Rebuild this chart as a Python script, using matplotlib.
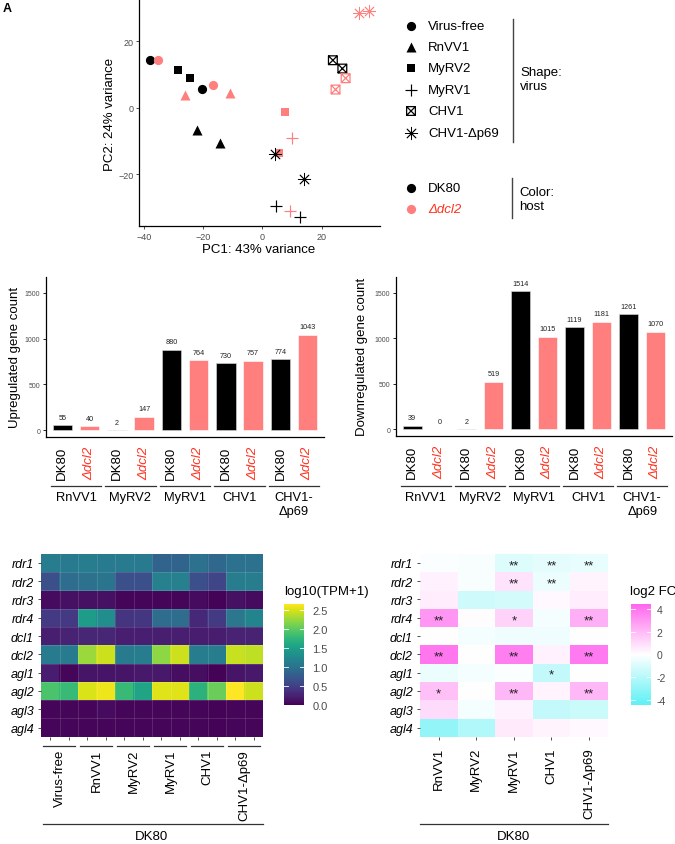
import numpy as np
import matplotlib
matplotlib.use('Agg')
import matplotlib.pyplot as plt
from matplotlib.colors import LinearSegmentedColormap
from matplotlib.path import Path
from matplotlib import transforms

plt.rcParams['font.family'] = ['Liberation Sans', 'DejaVu Sans']

# ---------------- data ----------------
viruses = ['Virus-free', 'RnVV1', 'MyRV2', 'MyRV1', 'CHV1', 'CHV1-Δp69']
hosts = ['DK80', 'Δdcl2']

# PCA points (2 replicates for each virus x host)
pca_virus = ['Virus-free'] * 4 + ['RnVV1'] * 4 + ['MyRV2'] * 4 + ['MyRV1'] * 4 + ['CHV1'] * 4 + ['CHV1-Δp69'] * 4
pca_host = ['DK80', 'DK80', 'Δdcl2', 'Δdcl2'] * 6
pc1 = [-37.9, -20.2, -35.1, -16.6,
       -22.0, -14.2, -26.1, -11.0,
       -28.3, -24.3, 7.8, 5.6,
       4.5, 12.6, 10.1, 9.4,
       23.8, 27.0, 28.1, 24.7,
       4.3, 14.2, 32.7, 36.0]
pc2 = [14.5, 5.8, 14.5, 7.0,
       -6.7, -10.6, 3.8, 4.4,
       11.3, 8.9, -1.1, -13.7,
       -29.6, -32.7, -9.2, -31.0,
       14.3, 11.8, 8.9, 5.5,
       -14.0, -21.3, 28.6, 29.2]

# bar charts
bar_groups = ['RnVV1', 'MyRV2', 'MyRV1', 'CHV1', 'CHV1-\nΔp69']
up_dk80 = [55, 2, 880, 730, 774]
up_dcl2 = [40, 147, 764, 757, 1043]
down_dk80 = [39, 2, 1514, 1119, 1261]
down_dcl2 = [0, 519, 1015, 1181, 1070]

# heatmap log10(TPM+1)
genes = ['rdr1', 'rdr2', 'rdr3', 'rdr4', 'dcl1', 'dcl2', 'agl1', 'agl2', 'agl3', 'agl4']
tpm_groups = ['Virus-free', 'RnVV1', 'MyRV2', 'MyRV1', 'CHV1', 'CHV1-Δp69']
tpm_rdr1 = [1.12, 1.08, 1.12, 1.08, 1.08, 1.08, 0.85, 0.85, 1.0, 0.9, 1.0, 1.0]
tpm_rdr2 = [0.65, 0.95, 1.0, 1.02, 0.65, 0.65, 1.15, 1.15, 0.65, 0.55, 1.12, 1.12]
tpm_rdr3 = [0.08, 0.12, 0.12, 0.12, 0.04, 0.04, 0.04, 0.04, 0.08, 0.03, 0.12, 0.08]
tpm_rdr4 = [0.45, 0.45, 1.45, 1.3, 0.4, 0.42, 0.95, 0.95, 0.3, 0.45, 1.05, 1.2]
tpm_dcl1 = [0.22, 0.25, 0.28, 0.28, 0.22, 0.22, 0.22, 0.22, 0.2, 0.2, 0.25, 0.25]
tpm_dcl2 = [1.1, 1.1, 2.25, 2.45, 1.1, 1.12, 2.2, 2.45, 1.12, 1.12, 2.43, 2.4]
tpm_agl1 = [0.2, 0.05, 0.15, 0.15, 0.15, 0.18, 0.18, 0.1, 0.1, 0.03, 0.15, 0.18]
tpm_agl2 = [1.9, 1.8, 2.5, 2.58, 1.8, 1.55, 2.52, 2.52, 1.7, 2.05, 2.65, 2.45]
tpm_agl3 = [0.04, 0.04, 0.05, 0.08, 0.04, 0.04, 0.05, 0.05, 0.04, 0.03, 0.04, 0.04]
tpm_agl4 = [0.04, 0.04, 0.05, 0.05, 0.04, 0.04, 0.04, 0.05, 0.04, 0.03, 0.04, 0.04]

# heatmap log2 FC
fc_groups = ['RnVV1', 'MyRV2', 'MyRV1', 'CHV1', 'CHV1-Δp69']
fc_rdr1 = [-0.1, -0.2, -0.9, -0.7, -0.6]
fc_rdr2 = [0.4, -0.2, 0.8, -0.5, 0.3]
fc_rdr3 = [0.5, -1.3, -1.2, 0.2, 0.5]
fc_rdr4 = [3.0, 0.1, 1.3, -0.3, 2.3]
fc_dcl1 = [0.0, -0.3, -0.4, -0.4, 0.0]
fc_dcl2 = [3.9, 0.0, 3.7, 0.4, 3.8]
fc_agl1 = [-0.5, -0.3, -0.1, -1.6, 0.0]
fc_agl2 = [1.8, 0.0, 2.0, 0.3, 2.0]
fc_agl3 = [1.0, -0.3, 0.4, -1.6, -1.4]
fc_agl4 = [-2.9, -2.1, 0.6, 0.3, 0.2]
fc_sig = [['', '', '**', '**', '**'],
          ['', '', '**', '**', ''],
          ['', '', '', '', ''],
          ['**', '', '*', '', '**'],
          ['', '', '', '', ''],
          ['**', '', '**', '', '**'],
          ['', '', '', '*', ''],
          ['*', '', '**', '', '**'],
          ['', '', '', '', ''],
          ['', '', '', '', '']]

# ---------------- styles ----------------
W, H = 675, 845
BLACK = '#000000'
PINK = '#FF7F7F'
RED_TXT = '#FF3320'
GRAY_TXT = '#4D4D4D'
host_colors = {'DK80': BLACK, 'Δdcl2': PINK}

sqx = Path([(-1, -1), (1, -1), (1, 1), (-1, 1), (-1, -1), (-1, -1), (1, 1), (-1, 1), (1, -1)],
           [Path.MOVETO, Path.LINETO, Path.LINETO, Path.LINETO, Path.CLOSEPOLY,
            Path.MOVETO, Path.LINETO, Path.MOVETO, Path.LINETO])
virus_marker = {
    'Virus-free': dict(marker='o', s=44, kind='filled', lw=0),
    'RnVV1': dict(marker='^', s=52, kind='filled', lw=0),
    'MyRV2': dict(marker='s', s=34, kind='filled', lw=0),
    'MyRV1': dict(marker='+', s=85, kind='line', lw=0.85),
    'CHV1': dict(marker=sqx, s=40, kind='open', lw=0.9),
    'CHV1-Δp69': dict(marker=(8, 2, 0), s=80, kind='line', lw=0.6),
}

fig = plt.figure(figsize=(W / 100, H / 100), dpi=100)


def add_ax(l, t, r, b):
    return fig.add_axes([l / W, 1 - b / H, (r - l) / W, (b - t) / H])


def draw_point(ax, x, y, virus, color, **kw):
    st = virus_marker[virus]
    if st['kind'] in ('filled', 'line'):
        ax.scatter([x], [y], marker=st['marker'], s=st['s'], c=color, linewidths=st['lw'], **kw)
    else:
        ax.scatter([x], [y], marker=st['marker'], s=st['s'], facecolors='none',
                   edgecolors=color, linewidths=st['lw'], **kw)


# ---------------- PCA ----------------
axp = add_ax(139, 0, 380, 227)
for x, y, v, h in zip(pc1, pc2, pca_virus, pca_host):
    draw_point(axp, x, y, v, host_colors[h], zorder=3, clip_on=False)
axp.set_xlim(-41.6, 39.7)
axp.set_ylim(-35.5, 32.7)
axp.set_xticks([-40, -20, 0, 20])
axp.set_yticks([-20, 0, 20])
for sp in ['top', 'right']:
    axp.spines[sp].set_visible(False)
for sp in ['left', 'bottom']:
    axp.spines[sp].set_linewidth(0.9)
axp.tick_params(labelsize=6.5, labelcolor=GRAY_TXT, length=2.5, width=0.6, color='#333333', pad=1.5)

# overlay axes for free text/lines
ov = fig.add_axes([0, 0, 1, 1], zorder=10)
ov.set_xlim(0, W)
ov.set_ylim(H, 0)
ov.axis('off')

ov.text(259, 250, 'PC1: 43% variance', ha='center', va='center', fontsize=9.5)
ov.text(110, 114, 'PC2: 24% variance', ha='center', va='center', rotation=90, fontsize=9.5)
ov.text(3, 9, 'A', ha='left', va='center', fontsize=9, fontweight='bold')

# legend (shape)
leg_y = [26.7, 47.7, 69.3, 90.7, 112, 134]
for v, y in zip(viruses, leg_y):
    draw_point(ov, 411, y, v, BLACK)
    ov.text(428, y, v, ha='left', va='center', fontsize=9.5)
ov.plot([512.5, 512.5], [20, 143], color='#444444', lw=1)
ov.text(520, 80, 'Shape:\nvirus', ha='left', va='center', fontsize=9.5, linespacing=1.25)
# legend (color)
for h, y in zip(hosts, [189.3, 210]):
    draw_point(ov, 411, y, 'Virus-free', host_colors[h])
    if h == 'DK80':
        ov.text(428, y, h, ha='left', va='center', fontsize=9.5)
    else:
        ov.text(428, y, h, ha='left', va='center', fontsize=9.5, color=RED_TXT, style='italic')
ov.plot([512, 512], [179, 219], color='#444444', lw=1)
ov.text(519, 200, 'Color:\nhost', ha='left', va='center', fontsize=9.5, linespacing=1.25)


# ---------------- bar charts ----------------
def bar_chart(box, dk, dc, ylabel, ylabel_x):
    l, t, r, b = box
    ax = add_ax(l, t, r, b)
    n = len(bar_groups)
    xs_dk = np.arange(n) * 2 + 1
    xs_dc = np.arange(n) * 2 + 2
    ax.bar(xs_dk, dk, width=0.71, color=BLACK, edgecolor='#DDDDDD', linewidth=0.4)
    ax.bar(xs_dc, dc, width=0.71, color=PINK, edgecolor='white', linewidth=0.4)
    for x, v in zip(list(xs_dk) + list(xs_dc), list(dk) + list(dc)):
        ax.annotate(str(v), (x, v), xytext=(0, 3.2), textcoords='offset points',
                    ha='center', va='bottom', fontsize=5.2, color='#222222')
    ax.set_xlim(0.4, 2 * n + 0.6)
    ax.set_ylim(-75, 1672)
    ax.set_yticks([0, 500, 1000, 1500])
    for sp in ['top', 'right']:
        ax.spines[sp].set_visible(False)
    for sp in ['left', 'bottom']:
        ax.spines[sp].set_linewidth(0.9)
    ax.tick_params(axis='y', labelsize=5, labelcolor=GRAY_TXT, length=2.5, width=0.6, pad=1.5)
    xt = []
    labs = []
    for i in range(n):
        xt += [2 * i + 1, 2 * i + 2]
        labs += hosts
    ax.set_xticks(xt)
    ax.set_xticklabels(labs, rotation=90, fontsize=9.5)
    ax.tick_params(axis='x', length=0, pad=6.2)
    for lab in ax.get_xticklabels():
        if lab.get_text() != 'DK80':
            lab.set_color(RED_TXT)
            lab.set_style('italic')
    hpx = b - t
    tr = transforms.blended_transform_factory(ax.transData, ax.transAxes)
    yline = (b - 487.3) / hpx
    ytxt = (b - 492.5) / hpx
    for i, g in enumerate(bar_groups):
        ax.plot([2 * i + 1 - 0.43, 2 * i + 2 + 0.42], [yline, yline], color='#333333', lw=0.9,
                transform=tr, clip_on=False)
        ax.text(2 * i + 1.5, ytxt, g, ha='center', va='top', fontsize=9.3, transform=tr,
                linespacing=1.15)
    ov.text(ylabel_x, 357, ylabel, ha='center', va='center', rotation=90, fontsize=9.5)
    return ax


bar_chart((46, 278, 324, 438), up_dk80, up_dcl2, 'Upregulated gene count', 15)
bar_chart((396, 278, 672, 437), down_dk80, down_dcl2, 'Downregulated gene count', 362)

# ---------------- heatmap TPM ----------------
tpm = np.array([tpm_rdr1, tpm_rdr2, tpm_rdr3, tpm_rdr4, tpm_dcl1,
                tpm_dcl2, tpm_agl1, tpm_agl2, tpm_agl3, tpm_agl4])
TPM_MAX = 2.65
axh = add_ax(41, 554.7, 263, 737.7)
axh.imshow(tpm, cmap='viridis', vmin=0, vmax=TPM_MAX, aspect='auto', interpolation='nearest')
for k in range(1, tpm.shape[1]):
    axh.axvline(k - 0.5, color='white', lw=0.5, alpha=0.18)
for k in range(1, tpm.shape[0]):
    axh.axhline(k - 0.5, color='white', lw=0.5, alpha=0.18)
for sp in axh.spines.values():
    sp.set_visible(False)
axh.set_yticks(range(len(genes)))
axh.set_yticklabels(genes, fontsize=9, style='italic')
axh.set_xticks(range(tpm.shape[1]))
axh.set_xticklabels([''] * tpm.shape[1])
axh.tick_params(length=2.5, width=0.6, color='#333333', pad=2.5)
trh = transforms.blended_transform_factory(axh.transData, axh.transAxes)
hh = 737.7 - 554.7
for i, g in enumerate(tpm_groups):
    axh.plot([2 * i - 0.38, 2 * i + 1 + 0.33], [(737.7 - 746.7) / hh] * 2, color='#333333', lw=0.9,
             transform=trh, clip_on=False)
    axh.text(2 * i + 0.5, (737.7 - 750) / hh, g, rotation=90, ha='center', va='top', fontsize=9.5,
             transform=trh)
ov.plot([43, 263], [825.3, 825.3], color='#333333', lw=0.9)
ov.text(152, 837, 'DK80', ha='center', va='center', fontsize=9.5)

# colorbar TPM
axc = add_ax(284, 605, 304, 706)
grad = np.linspace(TPM_MAX, 0, 256).reshape(-1, 1)
axc.imshow(grad, cmap='viridis', vmin=0, vmax=TPM_MAX, aspect='auto', extent=[0, 1, 0, TPM_MAX])
axc.set_xlim(0, 1)
axc.set_ylim(0, TPM_MAX)
for sp in axc.spines.values():
    sp.set_visible(False)
axc.set_xticks([])
cticks = [0.0, 0.5, 1.0, 1.5, 2.0, 2.5]
axc.set_yticks(cticks)
axc.yaxis.tick_right()
axc.set_yticklabels(['%.1f' % c for c in cticks], fontsize=8, color=GRAY_TXT)
axc.tick_params(axis='y', length=0, pad=6)
for c in cticks:
    axc.plot([0, 0.2], [c, c], color='white', lw=0.6)
    axc.plot([0.8, 1], [c, c], color='white', lw=0.6)
ov.text(284, 592, 'log10(TPM+1)', ha='left', va='center', fontsize=9.5)

# ---------------- heatmap FC ----------------
fc = np.array([fc_rdr1, fc_rdr2, fc_rdr3, fc_rdr4, fc_dcl1,
               fc_dcl2, fc_agl1, fc_agl2, fc_agl3, fc_agl4])
FC_LIM = 4.4
fc_cmap = LinearSegmentedColormap.from_list('fc', ['#5EF1F5', '#FFFFFF', '#FF66EE'])
axf = add_ax(420, 554.7, 607.7, 737.7)
axf.imshow(fc, cmap=fc_cmap, vmin=-FC_LIM, vmax=FC_LIM, aspect='auto', interpolation='nearest')
for i in range(fc.shape[0]):
    for j in range(fc.shape[1]):
        if fc_sig[i][j]:
            axf.text(j, i + 0.12, fc_sig[i][j], ha='center', va='center', fontsize=9.5, color='#222222')
for sp in axf.spines.values():
    sp.set_visible(False)
axf.set_yticks(range(len(genes)))
axf.set_yticklabels(genes, fontsize=9, style='italic')
axf.set_xticks(range(len(fc_groups)))
axf.set_xticklabels(fc_groups, rotation=90, fontsize=9.5, va='top')
axf.tick_params(length=2.5, width=0.6, color='#333333', pad=2.5)
axf.tick_params(axis='x', pad=5)
ov.plot([420, 608], [825.3, 825.3], color='#333333', lw=0.9)
ov.text(514, 837, 'DK80', ha='center', va='center', fontsize=9.5)

# colorbar FC
axc2 = add_ax(631, 605, 651, 706)
grad2 = np.linspace(FC_LIM, -FC_LIM, 256).reshape(-1, 1)
axc2.imshow(grad2, cmap=fc_cmap, vmin=-FC_LIM, vmax=FC_LIM, aspect='auto',
            extent=[0, 1, -FC_LIM, FC_LIM])
axc2.set_xlim(0, 1)
axc2.set_ylim(-FC_LIM, FC_LIM)
for sp in axc2.spines.values():
    sp.set_visible(False)
axc2.set_xticks([])
fticks = [-4, -2, 0, 2, 4]
axc2.set_yticks(fticks)
axc2.yaxis.tick_right()
axc2.set_yticklabels([str(f) for f in fticks], fontsize=7.5, color=GRAY_TXT)
axc2.tick_params(axis='y', length=0, pad=4)
for c in fticks:
    axc2.plot([0, 0.2], [c, c], color='white', lw=0.6)
    axc2.plot([0.8, 1], [c, c], color='white', lw=0.6)
ov.text(630, 592, 'log2 FC', ha='left', va='center', fontsize=9.5)

fig.savefig('out.png', dpi=100)
